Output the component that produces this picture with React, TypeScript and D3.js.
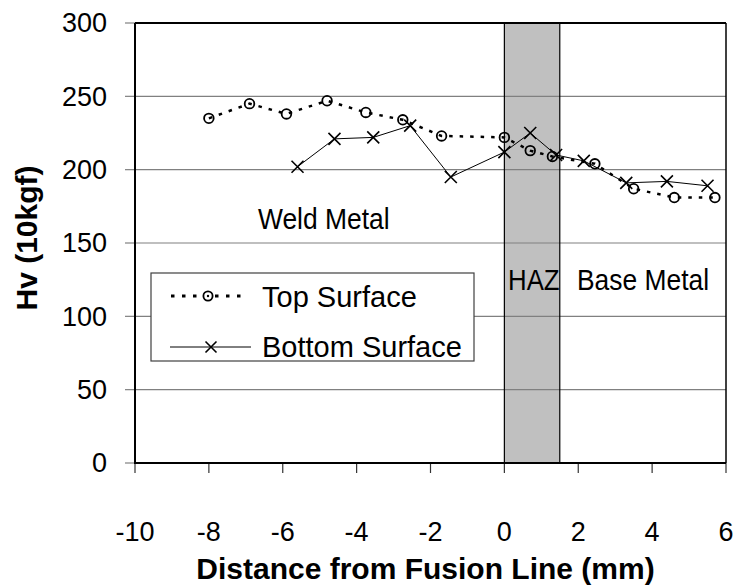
import React from 'react'
import * as d3 from 'd3'

// distance from fusion line (mm) and hardness (Hv)
const topX = [-8, -6.9, -5.9, -4.8, -3.75, -2.75, -1.7, 0, 0.7, 1.3, 2.45, 3.5, 4.6, 5.7]
const topY = [235, 245, 238, 247, 239, 234, 223, 222, 213, 209, 204, 187, 181, 181]
const bottomX = [-5.6, -4.6, -3.55, -2.55, -1.45, 0, 0.7, 1.4, 2.15, 3.3, 4.4, 5.5]
const bottomY = [202, 221, 222, 230, 195, 212, 225, 210, 206, 191, 192, 189]

const xTicks = [-10, -8, -6, -4, -2, 0, 2, 4, 6]
const yTicks = [0, 50, 100, 150, 200, 250, 300]
const hazRange = [0, 1.5]

const FONT = '"Liberation Sans", Arial, sans-serif'

const margins = { top: 23, right: 14, bottom: 123, left: 135 }
const W = 740
const H = 586

export default function App() {
	const x = d3.scaleLinear().domain([-10, 6]).range([margins.left, W - margins.right])
	const y = d3.scaleLinear().domain([0, 300]).range([H - margins.bottom, margins.top])

	const topPts = topX.map((d, i) => [d, topY[i]] as [number, number])
	const botPts = bottomX.map((d, i) => [d, bottomY[i]] as [number, number])

	const line = d3
		.line<[number, number]>()
		.x((d) => x(d[0]))
		.y((d) => y(d[1]))

	const x0 = x(-10)
	const x1 = x(6)
	const y0 = y(0)
	const y1 = y(300)

	const cross = (cx: number, cy: number, s: number, key: any) => (
		<path
			key={key}
			d={`M${cx - s},${cy - s}L${cx + s},${cy + s}M${cx - s},${cy + s}L${cx + s},${cy - s}`}
			stroke="#000"
			strokeWidth={1.6}
		/>
	)

	return (
		<svg
			width={W}
			height={H}
			style={{ position: 'absolute', left: 0, top: 0, background: '#fff' }}
			fontFamily={FONT}
		>
			{/* HAZ band */}
			<rect
				x={x(hazRange[0])}
				y={y1}
				width={x(hazRange[1]) - x(hazRange[0])}
				height={y0 - y1}
				fill="#c0c0c0"
			/>
			{/* grid lines */}
			{yTicks
				.filter((t) => t > 0 && t < 300)
				.map((t) => (
					<line key={t} x1={x0} x2={x1} y1={y(t)} y2={y(t)} stroke="#808080" strokeWidth={1.2} />
				))}
			{hazRange.map((v) => (
				<line key={v} x1={x(v)} x2={x(v)} y1={y1} y2={y0} stroke="#000" strokeWidth={1.2} />
			))}

			{/* y axis ticks + labels */}
			{yTicks.map((t) => (
				<g key={t}>
					<line x1={x0 - 10} x2={x0} y1={y(t)} y2={y(t)} stroke="#808080" strokeWidth={1.2} />
					<text x={107} y={y(t)} dy="0.35em" textAnchor="end" fontSize={27}>
						{t}
					</text>
				</g>
			))}
			{/* x axis ticks + labels */}
			{xTicks.map((t) => (
				<g key={t}>
					<line x1={x(t)} x2={x(t)} y1={y0} y2={y0 + 10} stroke="#333" strokeWidth={1.2} />
					<text x={x(t)} y={541} textAnchor="middle" fontSize={27}>
						{t}
					</text>
				</g>
			))}

			{/* plot frame */}
			<line x1={x0} x2={x1} y1={y1} y2={y1} stroke="#000" strokeWidth={2} />
			<line x1={x1} x2={x1} y1={y1} y2={y0} stroke="#000" strokeWidth={1.5} />
			<line x1={x0} x2={x0} y1={y1} y2={y0 + 1} stroke="#000" strokeWidth={2} />
			<line x1={x0 - 1} x2={x1} y1={y0} y2={y0} stroke="#000" strokeWidth={2} />

			{/* region labels */}
			<text transform="translate(258,229) scale(0.88,1)" fontSize={30}>
				Weld Metal
			</text>
			<text transform="translate(508,290) scale(0.86,1)" fontSize={30}>
				HAZ
			</text>
			<text transform="translate(577,290) scale(0.88,1)" fontSize={30}>
				Base Metal
			</text>

			{/* bottom surface */}
			<path d={line(botPts) || ''} fill="none" stroke="#000" strokeWidth={1} />
			{botPts.map((d, i) => cross(x(d[0]), y(d[1]), 6, 'b' + i))}

			{/* top surface */}
			<path
				d={line(topPts) || ''}
				fill="none"
				stroke="#000"
				strokeWidth={2.5}
				strokeDasharray="3.5 7"
			/>
			{topPts.map((d, i) => (
				<circle
					key={'t' + i}
					cx={x(d[0])}
					cy={y(d[1])}
					r={4.8}
					fill="none"
					stroke="#000"
					strokeWidth={1.8}
				/>
			))}

			{/* legend */}
			<rect x={151} y={273} width={323} height={88} fill="#fff" stroke="#404040" strokeWidth={1.2} />
			<line x1={171} x2={247} y1={296} y2={296} stroke="#000" strokeWidth={3} strokeDasharray="3.5 7.5" />
			<circle cx={208} cy={296} r={4.6} fill="#fff" stroke="#000" strokeWidth={1.8} />
			<circle cx={208} cy={296} r={1.2} fill="#000" />
			<text x={262} y={307} fontSize={29}>
				Top Surface
			</text>
			<line x1={170} x2={251} y1={347} y2={347} stroke="#000" strokeWidth={1} />
			{cross(211, 347, 5.5, 'lg')}
			<text x={262} y={357} fontSize={29}>
				Bottom Surface
			</text>

			{/* axis titles */}
			<text x={(x0 + x1) / 2 - 5} y={579} textAnchor="middle" fontSize={30} fontWeight="bold">
				Distance from Fusion Line (mm)
			</text>
			<text
				transform="translate(37,238) rotate(-90)"
				textAnchor="middle"
				fontSize={30}
				fontWeight="bold"
			>
				Hv (10kgf)
			</text>
		</svg>
	)
}
